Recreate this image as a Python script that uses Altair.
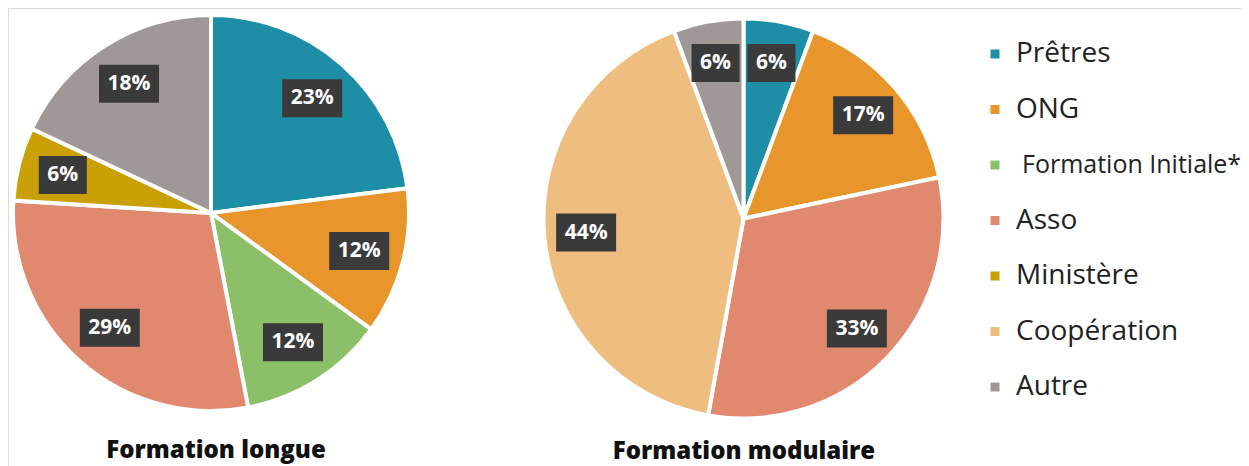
import altair as alt
import pandas as pd

# ---- data ----
legend_order = ["Prêtres", "ONG", "Formation Initiale*", "Asso", "Ministère", "Coopération", "Autre"]
legend_colors = ["#1E8EA7", "#E8952B", "#8CC068", "#E0896E", "#C9A005", "#EDBE7F", "#A09896"]

longue_cats = ["Prêtres", "ONG", "Formation Initiale*", "Asso", "Ministère", "Autre"]
longue_vals = [23, 12, 12, 29, 6, 18]

modulaire_cats = ["Prêtres", "ONG", "Asso", "Coopération", "Autre"]
modulaire_vals = [6, 17, 33, 44, 6]

titles = ["Formation longue", "Formation modulaire"]


def frame(cats, vals):
    return pd.DataFrame({"cat": cats, "val": vals, "idx": list(range(len(cats)))})


color = alt.Color(
    "cat:N",
    scale=alt.Scale(domain=legend_order, range=legend_colors),
    legend=None,
)


def pie(df, cx, cy, r, lr, title, tx, ty):
    base = alt.Chart(df)
    arcs = base.mark_arc(stroke="white", strokeWidth=4, radius=r).encode(
        theta=alt.Theta("val:Q", stack=True),
        color=color,
        order=alt.Order("idx:Q"),
        x=alt.value(cx),
        y=alt.value(cy),
    )
    lab = (
        base.transform_joinaggregate(total="sum(val)")
        .transform_window(cum="sum(val)", sort=[alt.SortField("idx")], frame=[None, 0])
        .transform_calculate(ang="2*PI*(datum.cum - datum.val/2)/datum.total")
        .transform_calculate(px=f"{cx} + {lr}*sin(datum.ang)")
        .transform_calculate(py=f"{cy} - {lr}*cos(datum.ang)")
        .transform_calculate(txt="datum.val + '%'")
        .transform_calculate(w="24 + 12*length(datum.txt)")
        .transform_calculate(bx1="datum.px - datum.w/2")
        .transform_calculate(bx2="datum.px + datum.w/2")
        .transform_calculate(by1="datum.py - 19")
        .transform_calculate(by2="datum.py + 19")
    )
    boxes = lab.mark_rect(color="#3A3A3A").encode(
        x=alt.X("bx1:Q", scale=None, axis=None),
        x2="bx2:Q",
        y=alt.Y("by1:Q", scale=None, axis=None),
        y2="by2:Q",
    )
    texts = lab.mark_text(
        color="white", font="Open Sans", fontWeight="bold", fontSize=21, baseline="middle"
    ).encode(
        x=alt.X("px:Q", scale=None, axis=None),
        y=alt.Y("py:Q", scale=None, axis=None),
        text="txt:N",
    )
    ttl = (
        alt.Chart(pd.DataFrame({"t": [title]}))
        .mark_text(font="Open Sans", fontWeight=800, fontSize=24, color="#111111", baseline="alphabetic")
        .encode(x=alt.value(tx), y=alt.value(ty), text="t:N")
    )
    return [arcs, boxes, texts, ttl]


# ---- manual legend (one row per category) ----
leg = alt.Chart(pd.DataFrame({"cat": legend_order, "idx": list(range(len(legend_order)))})).transform_calculate(
    ly="46 + 55.5*datum.idx"
)
leg_squares = leg.mark_square(size=81, opacity=1, strokeWidth=0).encode(
    x=alt.value(987),
    y=alt.Y("ly:Q", scale=None, axis=None),
    color=color,
)
leg_labels = (
    leg.transform_calculate(fs="datum.cat == 'Formation Initiale*' ? 25 : 28")
    .transform_calculate(lx="datum.cat == 'Formation Initiale*' ? 1014 : 1008")
    .mark_text(align="left", baseline="middle", font="Open Sans", color="#222222")
    .encode(
        x=alt.X("lx:Q", scale=None, axis=None),
        y=alt.Y("ly:Q", scale=None, axis=None),
        text="cat:N",
        size=alt.Size("fs:Q", scale=None, legend=None),
    )
)

layers = (
    pie(frame(longue_cats, longue_vals), 203, 205, 198, 153, titles[0], 208, 450)
    + pie(frame(modulaire_cats, modulaire_vals), 735.5, 210.5, 200, 158, titles[1], 736, 451)
    + [leg_squares, leg_labels]
)

chart = (
    alt.layer(*layers)
    .resolve_scale(theta="independent")
    .properties(width=1233, height=458, padding=0, autosize=alt.AutoSizeParams(type="none"))
    .configure_view(stroke="transparent", strokeWidth=0)
    .configure(background="white")
)

chart.save("out.html", embed_options={"renderer": "svg", "actions": False})
